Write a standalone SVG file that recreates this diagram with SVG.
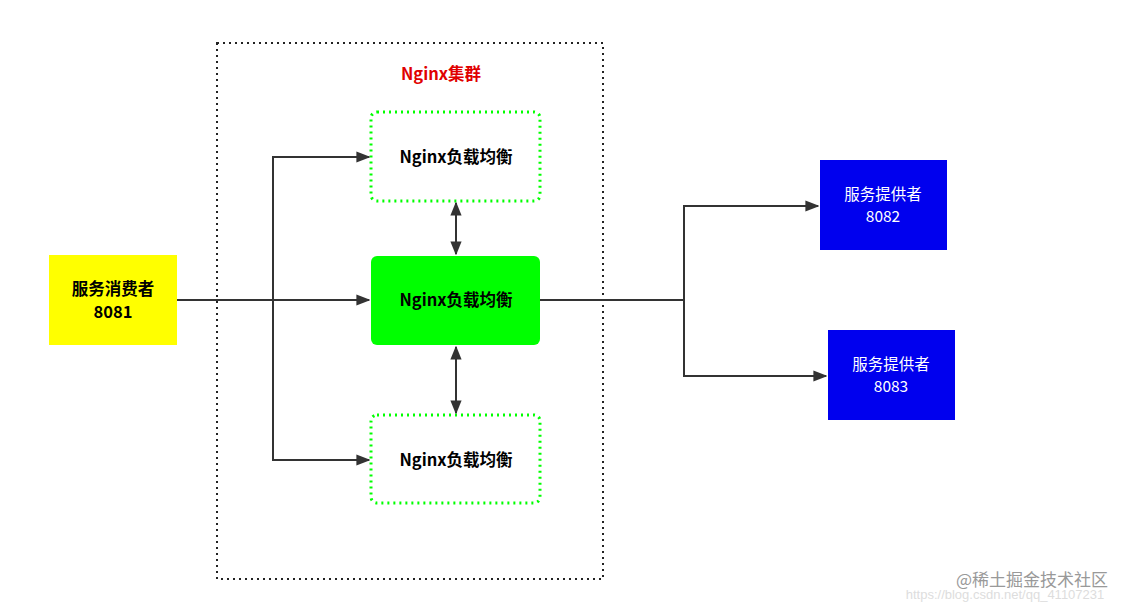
<svg xmlns="http://www.w3.org/2000/svg" width="1129" height="609" viewBox="0 0 1129 609">
<style>
text{font-family:"Noto Sans CJK SC","Noto Sans",sans-serif;font-weight:bold;font-size:16.5px;text-anchor:middle}
.c{fill:none;stroke:#333;stroke-width:2}
.g{fill:#fff;stroke:#00ff00;stroke-width:3;stroke-dasharray:2 4}
.w{fill:#fff;font-weight:normal;font-size:15.5px}
</style>
<defs>
<marker id="a" viewBox="0 0 10 10" refX="9" refY="5" markerWidth="7" markerHeight="7" orient="auto-start-reverse"><path d="M0,1 L10,5 L0,9 Z" fill="#333"/></marker>
</defs>
<rect width="1129" height="609" fill="#fff"/>
<g id="cluster">
<rect x="217" y="43" width="386" height="536" fill="none" stroke="#222" stroke-width="2" stroke-dasharray="2 4"/>
<text x="441" y="80" fill="#e00000">Nginx集群</text>
</g>
<g id="lb1"><rect class="g" x="371" y="112" width="169" height="89" rx="6"/><text x="456" y="163">Nginx负载均衡</text></g>
<g id="lb2"><rect x="371" y="256" width="169" height="89" rx="6" fill="#00ff00"/><text x="456" y="306">Nginx负载均衡</text></g>
<g id="lb3"><rect class="g" x="371" y="415" width="169" height="88" rx="6"/><text x="456" y="466">Nginx负载均衡</text></g>
<g id="consumer"><rect x="49" y="255" width="128" height="90" fill="#ffff00"/><text x="113" y="295">服务消费者</text><text x="113" y="318">8081</text></g>
<g id="p1"><rect x="820" y="160" width="127" height="90" fill="#0000ee"/><text class="w" x="883" y="200">服务提供者</text><text class="w" x="883" y="222">8082</text></g>
<g id="p2"><rect x="828" y="330" width="127" height="90" fill="#0000ee"/><text class="w" x="891" y="370">服务提供者</text><text class="w" x="891" y="392">8083</text></g>
<g id="connectors">
<path class="c" d="M177,300 L369,300" marker-end="url(#a)"/>
<path class="c" d="M273,300 L273,157 L369,157" marker-end="url(#a)"/>
<path class="c" d="M273,300 L273,460 L369,460" marker-end="url(#a)"/>
<path class="c" d="M456,203 L456,254" marker-start="url(#a)" marker-end="url(#a)"/>
<path class="c" d="M456,347 L456,413" marker-start="url(#a)" marker-end="url(#a)"/>
<path class="c" d="M540,300 L684,300 L684,206 L818,206" marker-end="url(#a)"/>
<path class="c" d="M684,300 L684,376 L826,376" marker-end="url(#a)"/>
</g>
<g id="watermark">
<text x="1005" y="599" style="font-weight:normal;font-size:13px;fill:#ddd;font-family:'Liberation Sans',sans-serif">https://blog.csdn.net/qq_41107231</text>
<text x="1032" y="586" style="font-weight:normal;font-size:17px;fill:#999">@稀土掘金技术社区</text>
</g>
</svg>
